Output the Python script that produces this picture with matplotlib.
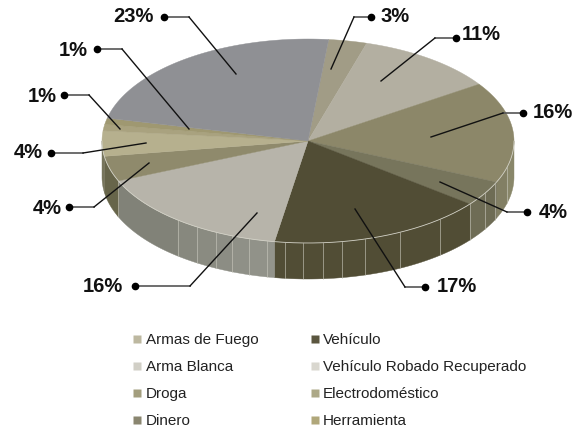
import numpy as np
import matplotlib
matplotlib.use('Agg')
import matplotlib.pyplot as plt
from matplotlib.patches import Polygon

# Chart values, clockwise from the top of the pie
slice_values = [3, 11, 16, 4, 17, 16, 4, 4, 1, 1, 23]
slice_labels = ['3%', '11%', '16%', '4%', '17%', '16%', '4%', '4%', '1%', '1%', '23%']
top_colors = ['#a19c86', '#b3afa1', '#8c8769', '#77755c', '#514d35', '#b7b4aa',
              '#8f8a6c', '#b6b08e', '#a9a27f', '#9f9871', '#8f9094']
side_left = ['#8f8b75', '#a09c8e', '#7e7b60', '#6e6c55', '#514d35', '#7c7d73',
             '#67654a', '#77755c', '#8a8560', '#8a8560', '#7d7e80']
side_right = ['#8f8b75', '#a09c8e', '#8c8a6c', '#6e6c55', '#514d35', '#94958c',
              '#67654a', '#77755c', '#8a8560', '#8a8560', '#7d7e80']

legend_col1 = ['Armas de Fuego', 'Arma Blanca', 'Droga', 'Dinero']
legend_col2 = ['Vehículo', 'Vehículo Robado Recuperado', 'Electrodoméstico', 'Herramienta']
legend_colors1 = ['#bdb8a0', '#d1cfc6', '#a39e7e', '#8a8670']
legend_colors2 = ['#5b563f', '#d9d7cf', '#aca887', '#b0a77a']

# Pie geometry in pixels
cx, cy, rx, ry, depth = 308, 141, 206, 102, 36
start_frac = 0.016

# Pixel columns where the wall shows its light facet lines
facet_x = [118, 178, 197, 216, 232, 249, 267, 285, 303, 323, 342, 365, 400, 440,
           470, 485, 495, 507]

# Leader lines: text centre, dot, elbow, end on the slice
text_pos = [(395, 17), (481, 34), (553, 112), (553, 212), (457, 287),
            (103, 287), (47, 209), (28, 152), (42, 97), (73, 51), (133, 17)]
dot_pos = [(371, 17), (456, 38), (523, 113), (527, 212), (425, 287),
           (135, 286), (69, 207), (51, 153), (64, 95), (97, 49), (164, 17)]
elbow_pos = [(354, 17), (435, 38), (503, 113), (507, 212), (405, 287),
             (190, 286), (94, 207), (83, 153), (89, 95), (122, 49), (189, 17)]
end_pos = [(331, 69), (381, 81), (431, 137), (440, 182), (355, 209),
           (257, 213), (149, 163), (146, 143), (120, 129), (189, 129), (236, 74)]

plt.rcParams['font.family'] = ['Liberation Sans', 'DejaVu Sans']

fig = plt.figure(figsize=(5.77, 4.30), dpi=100)
ax = fig.add_axes([0, 0, 1, 1])
ax.set_xlim(0, 577)
ax.set_ylim(430, 0)
ax.axis('off')


def rim(theta):
    # theta runs clockwise from the top of the ellipse
    return cx + rx * np.sin(theta), cy - ry * np.cos(theta)


def mix(c1, c2, t):
    a = np.array(matplotlib.colors.to_rgb(c1))
    b = np.array(matplotlib.colors.to_rgb(c2))
    return a + (b - a) * t


fracs = np.array(slice_values) / sum(slice_values)
edges = 2 * np.pi * (start_frac + np.concatenate([[0], np.cumsum(fracs)]))

# Wall first, only the front half of the rim can be seen
for i in range(len(slice_values)):
    t0 = max(edges[i], np.pi / 2)
    t1 = min(edges[i + 1], 3 * np.pi / 2)
    if t1 <= t0:
        continue
    x0, x1 = sorted([rim(t0)[0], rim(t1)[0]])
    cols = [x0] + [x for x in facet_x if x0 < x < x1] + [x1]
    # walk the wall in strips, one colour per facet
    for a, b in zip(cols[:-1], cols[1:]):
        ta = np.pi - np.arcsin(np.clip((b - cx) / rx, -1, 1))
        tb = np.pi - np.arcsin(np.clip((a - cx) / rx, -1, 1))
        th = np.linspace(ta, tb, 24)
        xs, ys = rim(th)
        pts = list(zip(xs, ys)) + list(zip(xs[::-1], ys[::-1] + depth))
        col = mix(side_left[i], side_right[i], ((a + b) / 2 - x0) / max(x1 - x0, 1))
        ax.add_patch(Polygon(pts, closed=True, facecolor=col, edgecolor=col, lw=0.3, zorder=1))
    for x in cols[1:-1]:
        t = np.pi - np.arcsin((x - cx) / rx)
        px, py = rim(t)
        ax.plot([px, px], [py, py + depth], color='#c9c8bd', lw=0.6, alpha=0.7, zorder=2)

# Top face
for i in range(len(slice_values)):
    th = np.linspace(edges[i], edges[i + 1], 60)
    xs, ys = rim(th)
    pts = [(cx, cy)] + list(zip(xs, ys))
    ax.add_patch(Polygon(pts, closed=True, facecolor=top_colors[i], edgecolor=top_colors[i],
                         lw=0.3, zorder=3))
th = np.linspace(np.pi / 2, 3 * np.pi / 2, 200)
ax.plot(*rim(th), color='#d2d1c6', lw=0.6, zorder=4)

# Leader lines with dots and percentage labels
for i in range(len(slice_labels)):
    ax.plot([dot_pos[i][0], elbow_pos[i][0]], [dot_pos[i][1], elbow_pos[i][1]],
            color='#555555', lw=1.2, zorder=5)
    ax.plot([elbow_pos[i][0], end_pos[i][0]], [elbow_pos[i][1], end_pos[i][1]],
            color='#111111', lw=1.0, zorder=5)
    ax.plot(dot_pos[i][0], dot_pos[i][1], 'o', color='black', ms=4.5, zorder=6)
    ax.text(text_pos[i][0], text_pos[i][1], slice_labels[i], fontsize=14.5, fontweight='bold',
            ha='center', va='center', color='#111111', zorder=6)

# Legend
legend_y = [340, 367, 394, 421]
for y, name1, c1, name2, c2 in zip(legend_y, legend_col1, legend_colors1, legend_col2, legend_colors2):
    ax.plot(137, y - 1, 's', color=c1, ms=5.5, mec='none')
    ax.text(146, y, name1, fontsize=11, va='center', color='#222222')
    ax.plot(315, y - 1, 's', color=c2, ms=5.5, mec='none')
    ax.text(323, y, name2, fontsize=11, va='center', color='#222222')

fig.savefig('out.png', dpi=100)
